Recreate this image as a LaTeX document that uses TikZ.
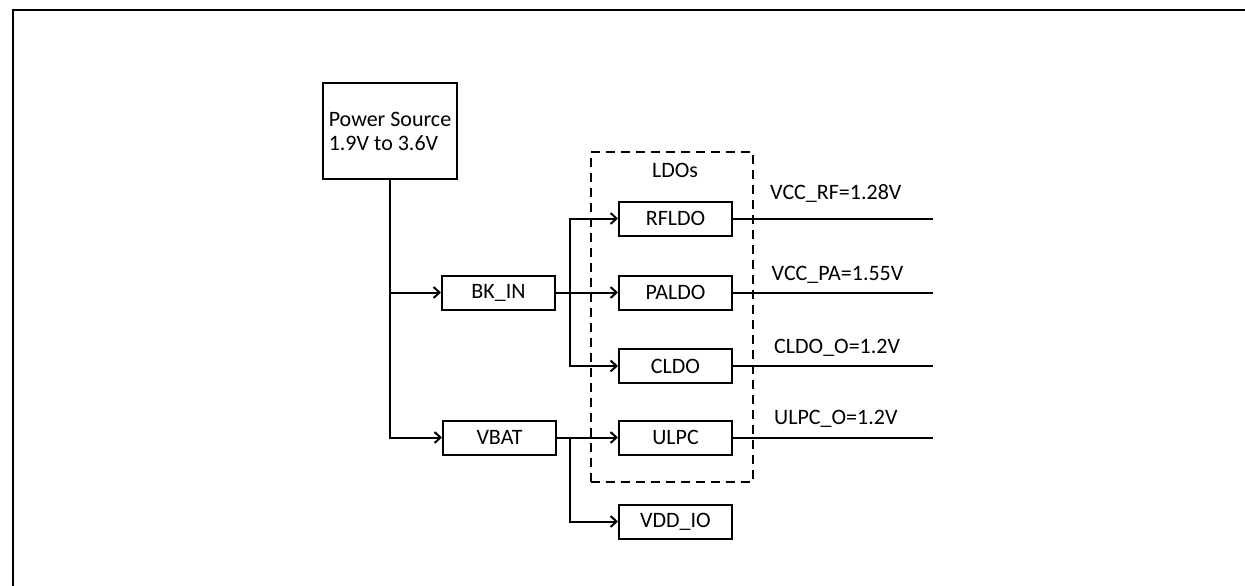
\documentclass[tikz,border=0pt]{standalone}
\usepackage{fontspec}
\setmainfont{Carlito}
\usetikzlibrary{arrows.meta}
\begin{document}
\begin{tikzpicture}[x=1pt,y=-1pt,
  every node/.style={font=\fontsize{22}{24}\selectfont, text=black},
  blk/.style={draw, line width=2pt, minimum width=113pt, minimum height=34pt, inner sep=0pt},
  wire/.style={line width=2pt},
  arr/.style={wire, -{Straight Barb[length=6pt,width=11pt]}},
  dashbox/.style={draw, line width=2pt, dash pattern=on 9pt off 6pt, minimum width=162pt, minimum height=330pt, inner sep=0pt},
  lbl/.style={anchor=west, inner sep=0pt},
  frame/.style={line width=2.4pt}]
\useasboundingbox (0,0) rectangle (1245,586);
\fill[white] (0,0) rectangle (1245,586);
% outer frame
\coordinate (fa) at (13,586);
\coordinate (fb) at (13,10);
\coordinate (fc) at (1245,10);
\draw[frame] (fa) -- (fb) -- (fc);

% dashed LDO group
\node[dashbox] (ldos) at (671.5,316.7) {};
\node[inner sep=0pt] (ldolbl) at (675,170) {LDOs};

% blocks
\node[blk, minimum width=134pt, minimum height=96pt, align=left] (ps) at (390,131) {Power Source\\1.9V to 3.6V};
\node[blk] (bk) at (498.5,292.5) {BK\_IN};
\node[blk] (vbat) at (499.5,437.5) {VBAT};
\node[blk] (rf) at (675.5,218.5) {RFLDO};
\node[blk] (pa) at (675.5,292.5) {PALDO};
\node[blk] (cl) at (675.5,366) {CLDO};
\node[blk] (ul) at (675.5,437.5) {ULPC};
\node[blk] (io) at (675.5,521.5) {VDD\_IO};

% power source distribution
\draw[arr] (ps.south) |- (bk.west);
\draw[arr] (ps.south) |- (vbat.west);

% BK_IN branches
\coordinate (bj) at (570,292.5);
\draw[wire] (bk.east) -- (bj);
\draw[arr] (bj) |- (rf.west);
\draw[arr] (bj) -- (pa.west);
\draw[arr] (bj) |- (cl.west);

% VBAT branches
\coordinate (vj) at (570,437.5);
\draw[wire] (vbat.east) -- (vj);
\draw[arr] (vj) -- (ul.west);
\draw[arr] (vj) |- (io.west);

% outputs
\coordinate (rfo) at (933,218.5);
\coordinate (pao) at (933,292.5);
\coordinate (clo) at (933,366);
\coordinate (ulo) at (933,437.5);
\draw[wire] (rf.east) -- (rfo);
\draw[wire] (pa.east) -- (pao);
\draw[wire] (cl.east) -- (clo);
\draw[wire] (ul.east) -- (ulo);

\node[lbl] (rfl) at (770,193) {VCC\_RF=1.28V};
\node[lbl] (pal) at (771.5,275) {VCC\_PA=1.55V};
\node[lbl] (cll) at (774,348) {CLDO\_O=1.2V};
\node[lbl] (ull) at (774,419) {ULPC\_O=1.2V};
\end{tikzpicture}
\end{document}
